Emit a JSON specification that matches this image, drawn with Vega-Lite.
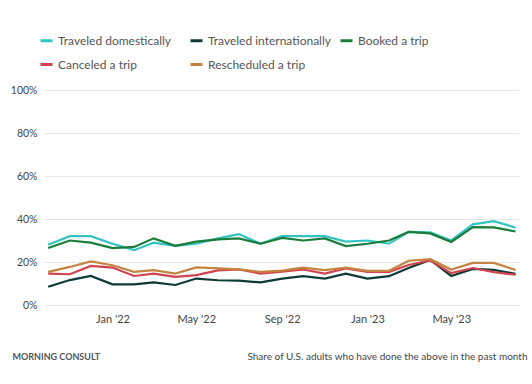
{
  "$schema": "https://vega.github.io/schema/vega-lite/v6.json",
  "width": 475,
  "height": 215,
  "autosize": {"type": "none"},
  "padding": {"left": 44, "top": 90, "right": 13, "bottom": 79},
  "background": "#ffffff",
  "config": {
    "font": "Lato",
    "view": {"stroke": null}
  },
  "data": {
    "values": [
      {"month": "2021-10-01", "Traveled domestically": 28, "Traveled internationally": 8.5, "Booked a trip": 26.5, "Canceled a trip": 14.6, "Rescheduled a trip": 15.4},
      {"month": "2021-11-01", "Traveled domestically": 32, "Traveled internationally": 11.6, "Booked a trip": 30, "Canceled a trip": 14.3, "Rescheduled a trip": 17.7},
      {"month": "2021-12-01", "Traveled domestically": 32, "Traveled internationally": 13.5, "Booked a trip": 29, "Canceled a trip": 18.2, "Rescheduled a trip": 20.3},
      {"month": "2022-01-01", "Traveled domestically": 28.5, "Traveled internationally": 9.6, "Booked a trip": 26.5, "Canceled a trip": 17.4, "Rescheduled a trip": 18.5},
      {"month": "2022-02-01", "Traveled domestically": 25.5, "Traveled internationally": 9.6, "Booked a trip": 27, "Canceled a trip": 13.5, "Rescheduled a trip": 15.4},
      {"month": "2022-03-01", "Traveled domestically": 29, "Traveled internationally": 10.5, "Booked a trip": 31, "Canceled a trip": 14.6, "Rescheduled a trip": 16.2},
      {"month": "2022-04-01", "Traveled domestically": 27.5, "Traveled internationally": 9.3, "Booked a trip": 27.5, "Canceled a trip": 13.1, "Rescheduled a trip": 14.6},
      {"month": "2022-05-01", "Traveled domestically": 28.5, "Traveled internationally": 12.3, "Booked a trip": 29.5, "Canceled a trip": 13.9, "Rescheduled a trip": 17.5},
      {"month": "2022-06-01", "Traveled domestically": 31, "Traveled internationally": 11.5, "Booked a trip": 30.5, "Canceled a trip": 16.1, "Rescheduled a trip": 17},
      {"month": "2022-07-01", "Traveled domestically": 33, "Traveled internationally": 11.3, "Booked a trip": 31, "Canceled a trip": 16.6, "Rescheduled a trip": 16.6},
      {"month": "2022-08-01", "Traveled domestically": 28.5, "Traveled internationally": 10.5, "Booked a trip": 28.5, "Canceled a trip": 14.6, "Rescheduled a trip": 15.4},
      {"month": "2022-09-01", "Traveled domestically": 32, "Traveled internationally": 12.3, "Booked a trip": 31.2, "Canceled a trip": 15.5, "Rescheduled a trip": 16},
      {"month": "2022-10-01", "Traveled domestically": 32, "Traveled internationally": 13.4, "Booked a trip": 30, "Canceled a trip": 16.5, "Rescheduled a trip": 17.4},
      {"month": "2022-11-01", "Traveled domestically": 32, "Traveled internationally": 12.3, "Booked a trip": 31, "Canceled a trip": 14.6, "Rescheduled a trip": 16.2},
      {"month": "2022-12-01", "Traveled domestically": 29.5, "Traveled internationally": 14.6, "Booked a trip": 27.4, "Canceled a trip": 17, "Rescheduled a trip": 17.4},
      {"month": "2023-01-01", "Traveled domestically": 30, "Traveled internationally": 12.3, "Booked a trip": 28.5, "Canceled a trip": 15.4, "Rescheduled a trip": 15.9},
      {"month": "2023-02-01", "Traveled domestically": 28.5, "Traveled internationally": 13.4, "Booked a trip": 30, "Canceled a trip": 15.4, "Rescheduled a trip": 15.9},
      {"month": "2023-03-01", "Traveled domestically": 34, "Traveled internationally": 17.2, "Booked a trip": 34, "Canceled a trip": 18.6, "Rescheduled a trip": 20.6},
      {"month": "2023-04-01", "Traveled domestically": 33.8, "Traveled internationally": 21, "Booked a trip": 33.3, "Canceled a trip": 20.7, "Rescheduled a trip": 21.3},
      {"month": "2023-05-01", "Traveled domestically": 30, "Traveled internationally": 13.5, "Booked a trip": 29.3, "Canceled a trip": 14.8, "Rescheduled a trip": 16.5},
      {"month": "2023-06-01", "Traveled domestically": 37.5, "Traveled internationally": 16.8, "Booked a trip": 36.2, "Canceled a trip": 17.2, "Rescheduled a trip": 19.6},
      {"month": "2023-07-01", "Traveled domestically": 39, "Traveled internationally": 16.3, "Booked a trip": 36.1, "Canceled a trip": 15.3, "Rescheduled a trip": 19.6},
      {"month": "2023-08-01", "Traveled domestically": 36, "Traveled internationally": 14.5, "Booked a trip": 34.2, "Canceled a trip": 14.1, "Rescheduled a trip": 16.3}
    ]
  },
  "transform": [
    {"fold": ["Traveled domestically", "Traveled internationally", "Booked a trip", "Canceled a trip", "Rescheduled a trip"], "as": ["series", "value"]}
  ],
  "mark": {"type": "line", "strokeWidth": 2.2, "interpolate": "linear"},
  "encoding": {
    "x": {
      "field": "month",
      "type": "temporal",
      "scale": {
        "type": "utc",
        "domain": [
          {"year": 2021, "month": 9, "date": 25, "utc": true},
          {"year": 2023, "month": 8, "date": 6, "utc": true}
        ]
      },
      "axis": {
        "values": [
          {"year": 2022, "month": 1, "date": 1, "utc": true},
          {"year": 2022, "month": 5, "date": 1, "utc": true},
          {"year": 2022, "month": 9, "date": 1, "utc": true},
          {"year": 2023, "month": 1, "date": 1, "utc": true},
          {"year": 2023, "month": 5, "date": 1, "utc": true}
        ],
        "labelExpr": "utcFormat(datum.value, \"%b '%y\")",
        "grid": false,
        "domain": false,
        "ticks": false,
        "labelPadding": 8,
        "labelFontSize": 11,
        "labelColor": "#444444",
        "title": "Share of U.S. adults who have done the above in the past month",
        "titleFontSize": 10,
        "titleFontWeight": "normal",
        "titleColor": "#444444",
        "titleAlign": "right",
        "titleAnchor": "end",
        "titleBaseline": "middle",
        "titleX": 483,
        "titleY": 51
      }
    },
    "y": {
      "field": "value",
      "type": "quantitative",
      "scale": {"domain": [0, 100]},
      "axis": {
        "values": [0, 20, 40, 60, 80, 100],
        "labelExpr": "datum.value + '%'",
        "grid": true,
        "gridColor": "#e6e6e6",
        "gridWidth": 1,
        "domain": false,
        "ticks": false,
        "labelPadding": 7,
        "labelFontSize": 10.5,
        "labelColor": "#444444",
        "title": "MORNING CONSULT",
        "titleAngle": 0,
        "titleFontSize": 9,
        "titleFontWeight": "bold",
        "titleColor": "#555555",
        "titleAlign": "left",
        "titleBaseline": "middle",
        "titleX": -32,
        "titleY": 266
      }
    },
    "color": {
      "field": "series",
      "type": "nominal",
      "scale": {
        "domain": ["Traveled domestically", "Traveled internationally", "Booked a trip", "Canceled a trip", "Rescheduled a trip"],
        "range": ["#32c4c1", "#0c3a36", "#1b7d3d", "#d1434e", "#c4843f"]
      },
      "legend": {
        "title": null,
        "orient": "none",
        "legendX": -5,
        "legendY": -57,
        "direction": "horizontal",
        "columns": 3,
        "gridAlign": "all",
        "columnPadding": 3,
        "rowPadding": 10,
        "symbolType": "stroke",
        "symbolSize": 144,
        "symbolStrokeWidth": 3,
        "labelOffset": 4,
        "labelFontSize": 12,
        "labelColor": "#555555"
      }
    }
  }
}
